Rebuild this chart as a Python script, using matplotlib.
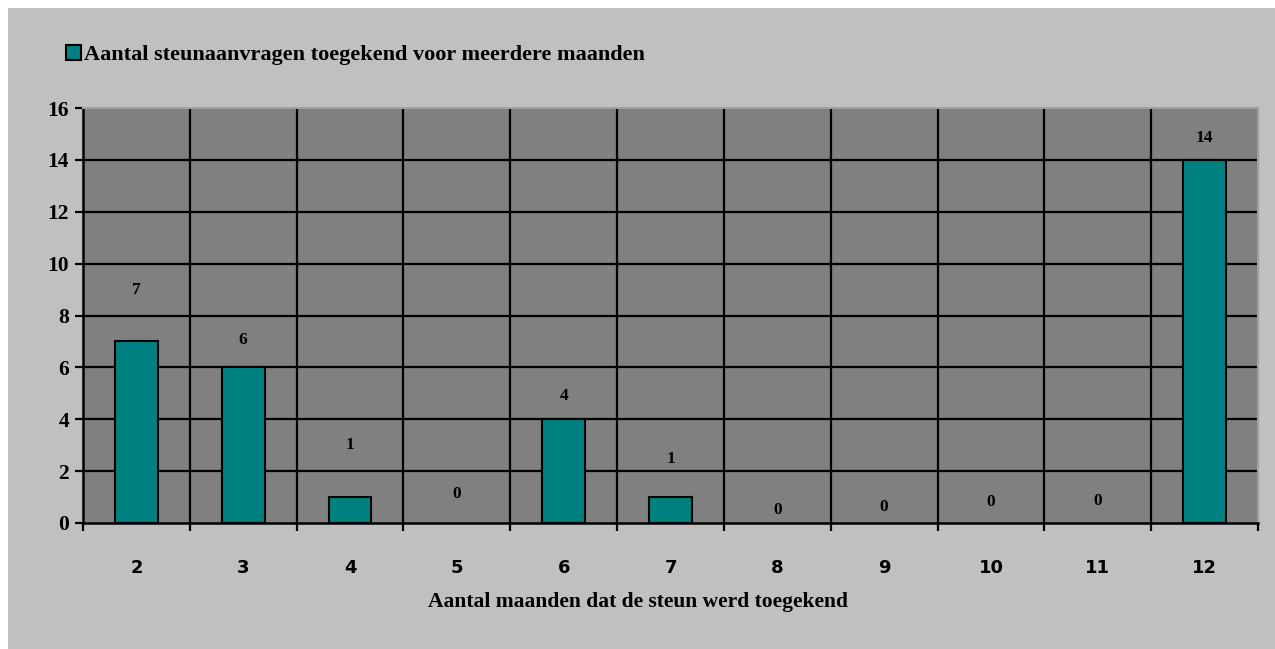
import matplotlib
matplotlib.use("Agg")
import matplotlib.pyplot as plt
from matplotlib.patches import Rectangle
import numpy as np

categories = ["2", "3", "4", "5", "6", "7", "8", "9", "10", "11", "12"]
values = [7, 6, 1, 0, 4, 1, 0, 0, 0, 0, 14]
label_offsets_px = [51, 27, 52, 29, 23, 38, 13, 16, 21, 22, 22]
yticks = [0, 2, 4, 6, 8, 10, 12, 14, 16]
series_name = "Aantal steunaanvragen toegekend voor meerdere maanden"
xlabel = "Aantal maanden dat de steun werd toegekend"

W, H = 1275, 649
fig = plt.figure(figsize=(W / 100, H / 100), dpi=100, facecolor="white")
fig.patches.append(Rectangle((8 / W, 0), 1 - 8 / W, 1 - 8 / H, transform=fig.transFigure,
                             facecolor="#c0c0c0", edgecolor="none", zorder=-10))

ax = fig.add_axes([83 / W, 1 - 523 / H, (1258 - 83) / W, (523 - 108) / H])
ax.set_facecolor("#808080")
x = np.arange(len(categories))
bars = ax.bar(x, values, width=0.4, color="#008080", edgecolor="black",
              linewidth=[1.5 if v > 0 else 0 for v in values],
              zorder=3, label=series_name)

ax.set_xlim(-0.5, len(categories) - 0.5)
ax.set_ylim(0, 16)
ax.set_yticks(yticks)
ax.set_yticklabels([str(v) for v in yticks], family="Liberation Serif", fontweight="bold", fontsize=15.5)
for y in yticks[1:-1]:
    ax.axhline(y, color="black", linewidth=1.6, zorder=1)
for b in np.arange(0.5, len(categories) - 0.5, 1):
    ax.axvline(b, color="black", linewidth=1.6, zorder=1)

ax.set_xticks(np.arange(-0.5, len(categories), 1))
ax.set_xticklabels([])
ax.set_xticks(x, minor=True)
ax.set_xticklabels(categories, minor=True, family="DejaVu Sans", fontweight="bold", fontsize=13)
ax.tick_params(axis="x", which="minor", length=0, pad=26)
ax.tick_params(axis="x", which="major", length=6, width=1.6, color="black", direction="out")
ax.tick_params(axis="y", length=6, width=1.6, color="black", direction="out", pad=4)

for s in ["left", "bottom"]:
    ax.spines[s].set_color("black")
    ax.spines[s].set_linewidth(1.8)
for s in ["top", "right"]:
    ax.spines[s].set_color("#a0a0a0")
    ax.spines[s].set_linewidth(1.5)

for xi, v, off in zip(x, values, label_offsets_px):
    ax.annotate(str(v), (xi, v), xytext=(0, off * 0.72), textcoords="offset points",
                ha="center", va="center", family="Liberation Serif", fontweight="bold",
                fontsize=12.5, zorder=4)

fig.text(638 / W, 1 - 602 / H, xlabel, ha="center", va="center",
         family="Liberation Serif", fontweight="bold", fontsize=15.5)

leg = fig.legend(handles=[bars], labels=[series_name], loc="center left",
                 bbox_to_anchor=(55 / W, 1 - 55 / H), frameon=False,
                 prop={"family": "Liberation Serif", "weight": "bold", "size": 16},
                 handlelength=0.65, handleheight=0.65, handletextpad=0.15, borderpad=0)

fig.savefig("out.png", dpi=100, facecolor=fig.get_facecolor())
